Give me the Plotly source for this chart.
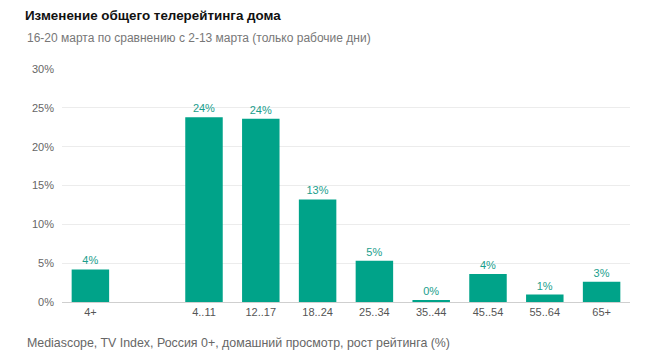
import plotly.graph_objects as go

categories = ["4+", " ", "4..11", "12..17", "18..24", "25..34", "35..44", "45..54", "55..64", "65+"]
values = [4.2, None, 23.8, 23.6, 13.2, 5.3, 0.2, 3.6, 0.95, 2.6]
labels = ["4%", "", "24%", "24%", "13%", "5%", "0%", "4%", "1%", "3%"]

OFF = 8  # page body margin
W, H = 654 - 2 * OFF, 358 - 2 * OFF
L, T = 62 - OFF, 69 - OFF
R = W - (630 - OFF)
B = H - (302 - OFF)
pw, ph = W - L - R, H - T - B

def px(x):
    return (x - OFF - L) / pw

def py(y):
    return (H - B - (y - OFF)) / ph

fig = go.Figure(go.Bar(
    x=categories, y=values, text=labels, textposition="outside",
    textfont=dict(color="#1a9e8c", size=11, family="Liberation Sans, Arial"),
    marker=dict(color="#00a389", line=dict(width=0)),
    width=0.66, cliponaxis=False, hoverinfo="skip",
))

fig.update_layout(
    width=W, height=H, margin=dict(l=L, r=R, t=T, b=B),
    paper_bgcolor="white", plot_bgcolor="white", showlegend=False,
    font=dict(family="Liberation Sans, Arial", color="#555"),
    title=dict(text="<b>Изменение общего телерейтинга дома</b>", xref="container", yref="container",
               x=(25 - OFF) / W, y=1 - (15.5 - OFF) / H, xanchor="left", yanchor="middle",
               font=dict(size=13.4, color="#111", family="Liberation Sans, Arial")),
    xaxis=dict(type="category", categoryorder="array", categoryarray=categories,
               showgrid=False, showline=True, linecolor="#cfcfcf", linewidth=1,
               ticks="", tickfont=dict(size=11, color="#555"), fixedrange=True),
    yaxis=dict(range=[0, 30], dtick=5, ticksuffix="%", showgrid=True, gridcolor="#ececec",
               gridwidth=1, zeroline=False, showline=False, ticks="", ticklabelstandoff=7,
               tickfont=dict(size=11, color="#666"), fixedrange=True),
    annotations=[
        dict(text="16-20 марта по сравнению с 2-13 марта (только рабочие дни)", xref="paper", yref="paper",
             x=px(25), y=py(38), xanchor="left", yanchor="middle", showarrow=False,
             font=dict(size=12, color="#777")),
        dict(text="Mediascope, TV Index, Россия 0+, домашний просмотр, рост рейтинга (%)", xref="paper", yref="paper",
             x=px(25), y=py(343), xanchor="left", yanchor="middle", showarrow=False,
             font=dict(size=12.4, color="#666")),
    ],
)

fig.write_html("out.html")
